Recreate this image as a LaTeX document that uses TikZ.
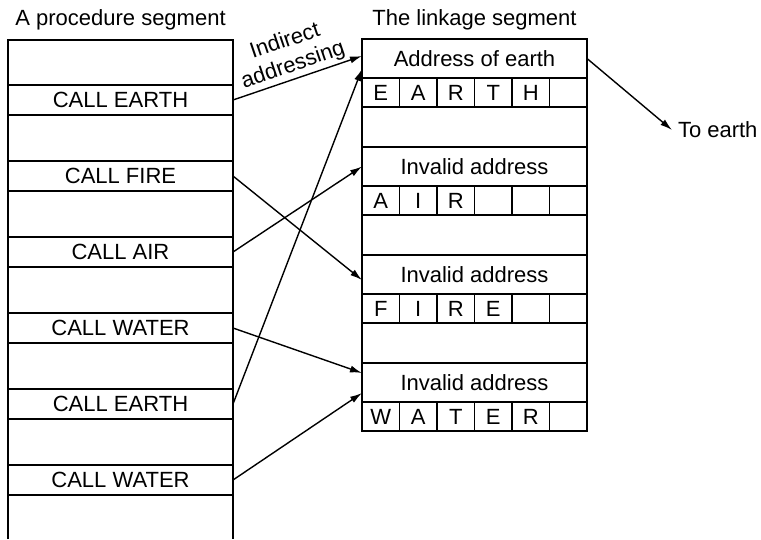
\documentclass[tikz,border=0pt]{standalone}
\usepackage{fontspec}
\setmainfont{Liberation Sans}
\usetikzlibrary{arrows.meta,positioning}

\begin{document}
\begin{tikzpicture}[x=1pt,y=-1pt,line width=1.8pt,
    every node/.style={font=\fontsize{22}{25}\selectfont,align=center,inner sep=0pt,outer sep=0pt},
    call/.style={draw,minimum width=225pt,minimum height=30pt},
    addr/.style={draw,minimum width=225pt,minimum height=39pt},
    cell/.style={draw,minimum width=37.5pt,minimum height=29pt},
    link/.style={-{Latex[length=12pt,width=7pt]},line width=1.4pt}]
    \useasboundingbox (0,0) rectangle (761,539);
    % procedure segment
    \draw (8,539) -- (8,40) -- (233,40) -- (233,539);
    \node (lt) at (120.5,20) {A procedure segment};
    \node[call] (c1) at (120.5,100) {CALL EARTH};
    \node[call,below=46pt of c1] (c2) {CALL FIRE};
    \node[call,below=46pt of c2] (c3) {CALL AIR};
    \node[call,below=46pt of c3] (c4) {CALL WATER};
    \node[call,below=46pt of c4] (c5) {CALL EARTH};
    \node[call,below=46pt of c5] (c6) {CALL WATER};
    % linkage segment
    \node (rt) at (474.5,20) {The linkage segment};
    \node[addr] (a1) at (474.5,58.5) {Address of earth};
    \node[addr,below=69pt of a1] (a2) {Invalid address};
    \node[addr,below=69pt of a2] (a3) {Invalid address};
    \node[addr,below=69pt of a3] (a4) {Invalid address};
    \foreach \g/\word in {1/{E,A,R,T,H,{}},2/{A,I,R,{},{},{}},3/{F,I,R,E,{},{}},4/{W,A,T,E,R,{}}}
      \foreach \l [count=\i] in \word
        \node[cell] (w\g\i) at ({343.25+37.5*\i},{92.5+108*(\g-1)}) {\l};
    \draw (a1.north west) rectangle (w46.south east);
    \node[anchor=west] (te) at (678,130) {To earth};
    \draw[link] (c1.east) -- node[sloped,above=3pt] {Indirect\\addressing} ([yshift=2.5pt]a1.west);
    \draw[link] (c2.east) -- ([yshift=-5.5pt]a3.west);
    \draw[link] (c3.east) -- (a2.west);
    \draw[link] (c4.east) -- ([yshift=9.5pt]a4.west);
    \draw[link] (c5.east) -- ([yshift=-10.5pt]a1.west);
    \draw[link] (c6.east) -- ([yshift=-10.5pt]a4.west);
    \draw[link] (a1.east) -- ([xshift=-6pt]te.west);
  \end{tikzpicture}
\end{document}
